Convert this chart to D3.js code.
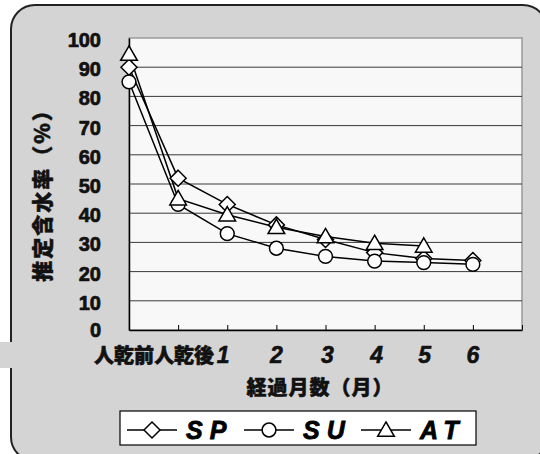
<!DOCTYPE html>
<html>
<head>
<meta charset="utf-8">
<script src="https://cdn.jsdelivr.net/npm/d3@7"></script>
<style>
  html, body { margin: 0; padding: 0; background: #ffffff; }
  svg { display: block; }
</style>
</head>
<body>
<svg id="chart" width="540" height="454"></svg>
<script>
// Estimated moisture content (%) after drying, by elapsed months
const categories = ["人乾前", "人乾後", "1", "2", "3", "4", "5", "6"];
const spValues = [90, 52, 43, 36, 31, 26.5, 24.5, 23.8];
const suValues = [85, 43, 33, 28, 25.2, 23.6, 23.1, 22.5];
const atValues = [94.5, 45, 39.5, 35.2, 32, 29.7, 28.8, null];
const yTicks = [0, 10, 20, 30, 40, 50, 60, 70, 80, 90, 100];
const seriesNames = ["SP", "SU", "AT"];

const series = [
  { name: seriesNames[0], values: spValues, shape: "diamond" },
  { name: seriesNames[1], values: suValues, shape: "circle" },
  { name: seriesNames[2], values: atValues, shape: "triangle" }
];

const svg = d3.select("#chart");
const plot = { left: 129, right: 522, top: 38, bottom: 330 };
const jpFont = "'Noto Sans CJK JP', 'Noto Sans', sans-serif";
const latinFont = "'Liberation Sans', Arial, sans-serif";

// Heavy text: fill plus a thin matching outline
function heavy(sel, w) {
  return sel.attr("stroke", "#111").attr("stroke-width", w).attr("stroke-linejoin", "round");
}

// Outer rounded frame
svg.append("rect")
  .attr("x", 11).attr("y", 5)
  .attr("width", 536).attr("height", 456)
  .attr("rx", 24).attr("ry", 24)
  .attr("fill", "#d4d4d4")
  .attr("stroke", "#222").attr("stroke-width", 2);
svg.append("rect")
  .attr("x", 0).attr("y", 342).attr("width", 40).attr("height", 26)
  .attr("fill", "#d4d4d4");

// Scales: one spare slot after the last month
const x = d3.scaleLinear().domain([0, categories.length]).range([plot.left, plot.right]);
const y = d3.scaleLinear().domain([0, 100]).range([plot.bottom, plot.top]);

// Plot area
svg.append("rect")
  .attr("x", plot.left).attr("y", plot.top)
  .attr("width", plot.right - plot.left).attr("height", plot.bottom - plot.top)
  .attr("fill", "#f8f8f8")
  .attr("stroke", "#999").attr("stroke-width", 1.5);

// Horizontal gridlines
svg.append("g")
  .selectAll("line")
  .data(yTicks.filter(d => d > 0 && d < 100))
  .join("line")
  .attr("x1", plot.left).attr("x2", plot.right)
  .attr("y1", d => y(d)).attr("y2", d => y(d))
  .attr("stroke", "#3a3a3a").attr("stroke-width", 1);

// Y axis
const yAxis = svg.append("g")
  .attr("transform", `translate(${plot.left},0)`)
  .call(d3.axisLeft(y).tickValues(yTicks).tickSize(0).tickPadding(28));
yAxis.select(".domain").attr("stroke", "#000").attr("stroke-width", 1.5);
heavy(yAxis.selectAll("text"), 0.7)
  .attr("font-family", latinFont)
  .attr("font-weight", "bold")
  .attr("font-size", 20)
  .attr("fill", "#111")
  .attr("dy", d => d === 0 ? "0.3em" : "0.42em");

// X axis with inward ticks
const xAxis = svg.append("g")
  .attr("transform", `translate(0,${plot.bottom})`)
  .call(d3.axisBottom(x)
    .tickValues(d3.range(1, categories.length + 1))
    .tickSizeInner(-5).tickSizeOuter(0)
    .tickFormat(() => ""));
xAxis.select(".domain").attr("stroke", "#000").attr("stroke-width", 1.5);
xAxis.selectAll(".tick line").attr("stroke", "#000").attr("stroke-width", 1);

// Category labels
const labelShift = [-5, 6, -4, 0, 2, 2, 1, 0];
heavy(svg.append("g")
  .selectAll("text")
  .data(categories)
  .join("text"), 0.6)
  .attr("x", (d, i) => x(i) + labelShift[i])
  .attr("y", 363)
  .attr("text-anchor", "middle")
  .attr("font-family", (d, i) => i < 2 ? jpFont : latinFont)
  .attr("font-weight", (d, i) => i < 2 ? 900 : "bold")
  .attr("font-style", (d, i) => i < 2 ? "normal" : "italic")
  .attr("font-size", (d, i) => i < 2 ? 20 : 23)
  .attr("fill", "#111")
  .text(d => d);

// Axis titles
heavy(svg.append("text"), 0.5)
  .attr("x", 320).attr("y", 395)
  .attr("text-anchor", "middle")
  .attr("font-family", jpFont).attr("font-weight", 900)
  .attr("font-size", 20).attr("letter-spacing", 1).attr("fill", "#111")
  .text("経過月数（月）");

heavy(svg.append("text"), 0.5)
  .attr("transform", "translate(50,190) rotate(-90)")
  .attr("text-anchor", "middle")
  .attr("font-family", jpFont).attr("font-weight", 900)
  .attr("font-size", 21).attr("letter-spacing", 2).attr("fill", "#111")
  .text("推定含水率（%）");

// Marker shapes
const markerSize = { circle: 150, triangle: 120 };
const symbolType = { circle: d3.symbolCircle, triangle: d3.symbolTriangle };
function markerPath(shape) {
  if (shape === "diamond") {
    return "M0,-8L8,0L0,8L-8,0Z";
  }
  return d3.symbol().type(symbolType[shape]).size(markerSize[shape])();
}

const line = d3.line()
  .defined(d => d.v != null)
  .x(d => x(d.i))
  .y(d => y(d.v));

series.forEach(s => {
  const pts = s.values.map((v, i) => ({ v, i }));
  svg.append("path")
    .datum(pts)
    .attr("d", line)
    .attr("fill", "none")
    .attr("stroke", "#000")
    .attr("stroke-width", 1.5);
});
series.forEach(s => {
  const pts = s.values.map((v, i) => ({ v, i })).filter(d => d.v != null);
  svg.append("g")
    .selectAll("path")
    .data(pts)
    .join("path")
    .attr("transform", d => `translate(${x(d.i)},${y(d.v) + (s.shape === "triangle" ? 1.5 : 0)})`)
    .attr("d", markerPath(s.shape))
    .attr("fill", "#fff")
    .attr("stroke", "#000")
    .attr("stroke-width", 1.5);
});

// Legend
const legend = svg.append("g");
legend.append("rect")
  .attr("x", 120).attr("y", 411)
  .attr("width", 356).attr("height", 34)
  .attr("fill", "#fff").attr("stroke", "#000").attr("stroke-width", 1.2);

const legendX = [127, 244, 361];
series.forEach((s, k) => {
  const g = legend.append("g").attr("transform", `translate(${legendX[k]},430)`);
  g.append("line")
    .attr("x1", 0).attr("x2", 50).attr("y1", 0).attr("y2", 0)
    .attr("stroke", "#000").attr("stroke-width", 1.5);
  g.append("path")
    .attr("transform", `translate(25,${s.shape === "triangle" ? 1.5 : 0})`)
    .attr("d", markerPath(s.shape))
    .attr("fill", "#fff").attr("stroke", "#000").attr("stroke-width", 1.5);
  g.append("text")
    .attr("x", 59).attr("y", 9)
    .attr("font-family", latinFont)
    .attr("font-weight", "bold")
    .attr("font-style", "italic")
    .attr("font-size", 25)
    .attr("letter-spacing", 7)
    .attr("fill", "#000")
    .attr("stroke", "#000").attr("stroke-width", 0.8)
    .text(s.name);
});
</script>
</body>
</html>
